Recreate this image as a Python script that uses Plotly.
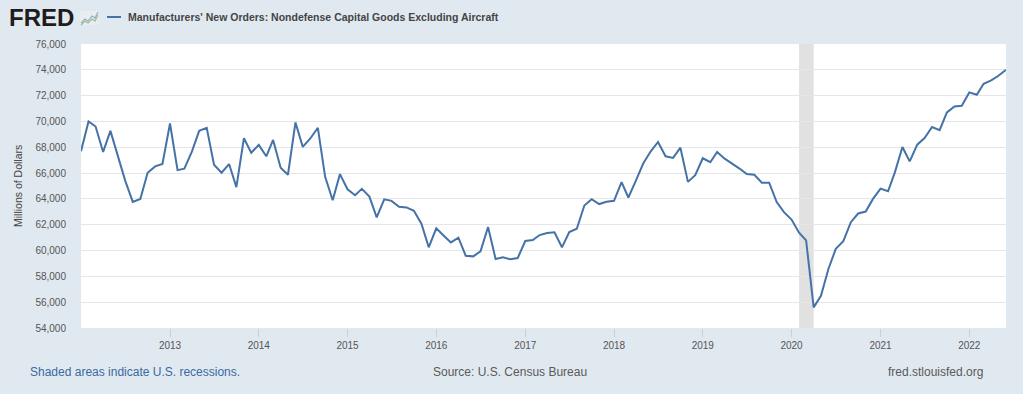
import pandas as pd
import plotly.graph_objects as go

# ---- data (millions of dollars, monthly, Jan 2012 - Jun 2022) ----
start_month = "2012-01-01"
values = [
    # 2012
    67700, 70000, 69610, 67640, 69270, 67300, 65400, 63770, 64000, 66030, 66520, 66700,
    # 2013
    69840, 66230, 66340, 67660, 69270, 69500, 66650, 66030, 66700, 64910, 68700, 67580,
    # 2014
    68180, 67300, 68570, 66420, 65870, 69920, 68030, 68680, 69510, 65710, 63900, 65920,
    # 2015
    64750, 64290, 64780, 64180, 62570, 63970, 63850, 63390, 63340, 63080, 62080, 60250,
    # 2016
    61720, 61150, 60630, 61000, 59600, 59550, 59940, 61820, 59350, 59480, 59320, 59420,
    # 2017
    60740, 60810, 61200, 61360, 61410, 60250, 61430, 61690, 63490, 63980, 63600, 63780,
    # 2018
    63850, 65300, 64110, 65420, 66740, 67690, 68410, 67300, 67180, 67970, 65320, 65840,
    # 2019
    67150, 66840, 67630, 67120, 66750, 66350, 65920, 65870, 65260, 65260, 63750, 62970,
    # 2020
    62400, 61380, 60790, 55600, 56500, 58590, 60130, 60730, 62200, 62870, 63020, 64000,
    # 2021
    64800, 64590, 66060, 68020, 66910, 68200, 68720, 69570, 69330, 70700, 71160, 71220,
    # 2022
    72250, 72070, 72920, 73180, 73540, 74000,
]
dates = pd.date_range(start_month, periods=len(values), freq="MS")

recession_start = ["2020-02-01"]
recession_end = ["2020-04-01"]

series_title = "Manufacturers' New Orders: Nondefense Capital Goods Excluding Aircraft"
y_title = "Millions of Dollars"
y_ticks = [54000, 56000, 58000, 60000, 62000, 64000, 66000, 68000, 70000, 72000, 74000, 76000]
x_tick_years = [str(y) for y in range(2013, 2023)]

# ---- layout geometry (pixels) ----
W, H = 1023, 394
L, R, T, B = 81, 17, 44, 66
PW, PH = W - L - R, H - T - B


def px(x):
    return (x - L) / PW


def py(y):
    return (H - B - y) / PH


FONT = "Liberation Sans, Arial, Helvetica, sans-serif"
BG = "#e1e9f0"
LINE = "#4572a7"

fig = go.Figure()
fig.add_trace(go.Scatter(
    x=dates, y=values, mode="lines",
    line=dict(color=LINE, width=2), showlegend=False,
    hovertemplate="%{x|%Y-%m}: %{y:,}<extra></extra>",
))

for s, e in zip(recession_start, recession_end):
    fig.add_shape(type="rect", xref="x", yref="paper", x0=s, x1=e, y0=0, y1=1,
                  fillcolor="#e1e1e1", line=dict(width=0), layer="below")

# header: logo + legend line + title
fig.add_annotation(text="<b>FRED</b>", xref="paper", yref="paper",
                   x=px(7), y=py(18), xanchor="left", yanchor="middle",
                   showarrow=False, font=dict(family=FONT, size=24, color="#1f1c1d"))
fig.add_shape(type="rect", xref="paper", yref="paper",
              x0=px(80), x1=px(99), y0=py(25), y1=py(11),
              fillcolor="#e9edf1", line=dict(width=0))
fig.add_shape(type="path", xref="paper", yref="paper",
              path=f"M {px(81)} {py(23)} L {px(85)} {py(19)} L {px(88)} {py(21)} L {px(92)} {py(16)} L {px(95)} {py(18)} L {px(98)} {py(12)}",
              line=dict(color="#8fb0cf", width=1.2))
fig.add_shape(type="path", xref="paper", yref="paper",
              path=f"M {px(81)} {py(25)} L {px(85)} {py(21)} L {px(88)} {py(23)} L {px(92)} {py(19)} L {px(95)} {py(21)} L {px(98)} {py(15)}",
              line=dict(color="#9cc08a", width=1.2))
fig.add_shape(type="line", xref="paper", yref="paper",
              x0=px(107), x1=px(121), y0=py(17), y1=py(17),
              line=dict(color=LINE, width=2))
fig.add_annotation(text=f"<b>{series_title}</b>", xref="paper", yref="paper",
                   x=px(126), y=py(17), xanchor="left", yanchor="middle",
                   showarrow=False, font=dict(family=FONT, size=10.5, color="#444444"))

# y axis title
fig.add_annotation(text=y_title, xref="paper", yref="paper", x=px(18), y=0.5,
                   xanchor="center", yanchor="middle", textangle=-90, showarrow=False,
                   font=dict(family=FONT, size=10.5, color="#444444"))

# footer
fig.add_annotation(text="Shaded areas indicate U.S. recessions.", xref="paper", yref="paper",
                   x=px(28), y=py(372), xanchor="left", yanchor="middle", showarrow=False,
                   font=dict(family=FONT, size=12, color="#3a6aa3"))
fig.add_annotation(text="Source: U.S. Census Bureau", xref="paper", yref="paper",
                   x=px(510), y=py(372), xanchor="center", yanchor="middle", showarrow=False,
                   font=dict(family=FONT, size=12, color="#595959"))
fig.add_annotation(text="fred.stlouisfed.org", xref="paper", yref="paper",
                   x=px(985), y=py(372), xanchor="right", yanchor="middle", showarrow=False,
                   font=dict(family=FONT, size=12, color="#595959"))

fig.update_layout(
    width=W, height=H,
    margin=dict(l=L, r=R, t=T, b=B, pad=0),
    paper_bgcolor=BG, plot_bgcolor="white",
    font=dict(family=FONT, size=10, color="#555555"),
    xaxis=dict(
        range=[dates[0], dates[-1]],
        tickmode="array",
        tickvals=[f"{y}-01-01" for y in x_tick_years],
        ticktext=x_tick_years,
        showgrid=False, zeroline=False, showline=False,
        ticks="outside", ticklen=8, tickcolor="#c3d2e2", tickwidth=1,
        tickfont=dict(family=FONT, size=10, color="#555555"),
    ),
    yaxis=dict(
        range=[54000, 76000],
        tickmode="array", tickvals=y_ticks,
        ticktext=[f"{v:,}" for v in y_ticks],
        showgrid=True, gridcolor="#e6e6e6", gridwidth=1,
        zeroline=False, showline=False,
        ticks="outside", ticklen=12, tickcolor="rgba(0,0,0,0)",
        tickfont=dict(family=FONT, size=10, color="#555555"),
    ),
)

fig.write_html(
    "out.html",
    config={"displayModeBar": False},
    post_script=(
        "document.body.style.margin='0';"
        "document.body.style.padding='0';"
        f"document.body.style.background='{BG}';"
        "document.body.style.overflow='hidden';"
    ),
)
